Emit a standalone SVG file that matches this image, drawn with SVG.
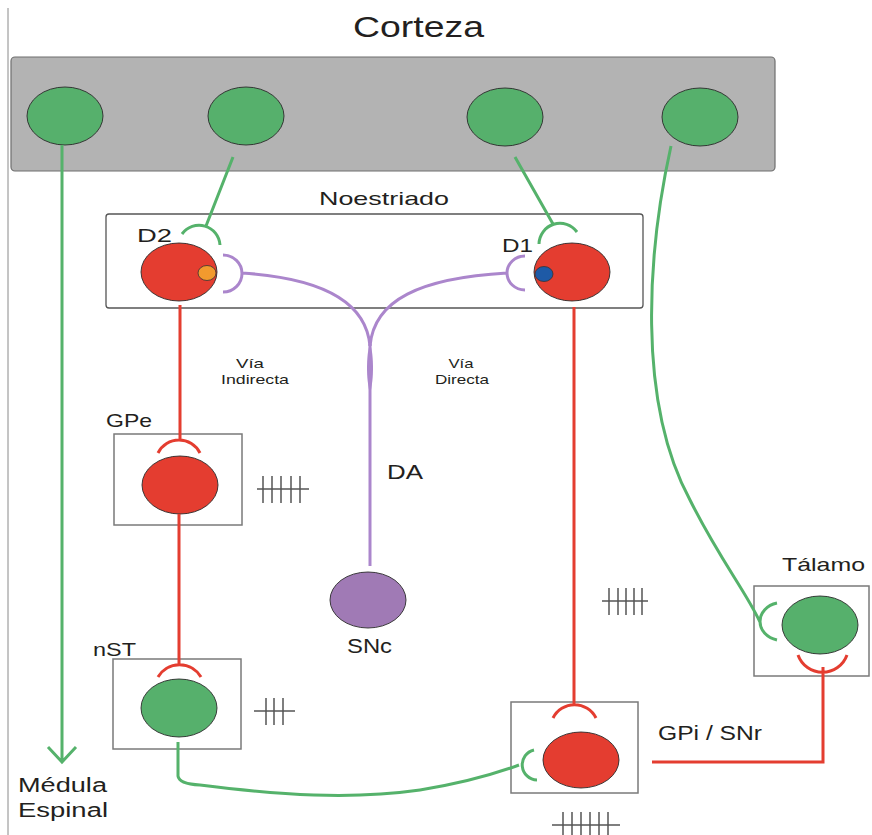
<svg xmlns="http://www.w3.org/2000/svg" width="872" height="835" viewBox="0 0 872 835">
<style>
.t{font-family:"Liberation Sans",Arial,sans-serif;fill:#231f20}
.box{fill:#fff;stroke:#7a7a7a;stroke-width:1.5}
.cell{stroke:#2a2a2a;stroke-width:0.9}
.g{fill:#56b06c}
.r{fill:#e43d30}
.gl{fill:none;stroke:#55b26b;stroke-width:3;stroke-linecap:butt}
.rl{fill:none;stroke:#e43d30;stroke-width:3}
.pl{fill:none;stroke:#ab86cc;stroke-width:3}
.hash{stroke:#555;stroke-width:1.5;fill:none}
</style>
<line x1="8" y1="8" x2="8" y2="835" stroke="#8a8a8a" stroke-width="1"/>
<g id="corteza">
<text class="t" x="353" y="37" font-size="30" textLength="131" lengthAdjust="spacingAndGlyphs">Corteza</text>
<rect x="11" y="57" width="764" height="114" rx="4" fill="#b3b3b3" stroke="#6e6e6e" stroke-width="1.2"/>
<ellipse class="cell g" cx="65" cy="116" rx="38" ry="29"/>
<ellipse class="cell g" cx="246" cy="116" rx="38" ry="29"/>
<ellipse class="cell g" cx="505" cy="117" rx="38" ry="29"/>
<ellipse class="cell g" cx="700" cy="117" rx="38" ry="29"/>
</g>
<g id="noestriado">
<text class="t" x="319" y="205" font-size="19" textLength="130" lengthAdjust="spacingAndGlyphs">Noestriado</text>
<rect x="106" y="214" width="537" height="94" rx="3" fill="#fff" stroke="#555" stroke-width="1.3"/>
<text class="t" x="137" y="242" font-size="19" textLength="35" lengthAdjust="spacingAndGlyphs">D2</text>
<text class="t" x="502" y="252" font-size="19" textLength="31" lengthAdjust="spacingAndGlyphs">D1</text>
<ellipse class="cell r" cx="179" cy="272" rx="38" ry="29"/>
<ellipse cx="207" cy="273" rx="9" ry="7.5" fill="#f29a2e" stroke="#333" stroke-width="0.8"/>
<ellipse class="cell r" cx="572" cy="272" rx="38" ry="29"/>
<ellipse cx="544" cy="274" rx="9" ry="7.5" fill="#1e5aa6" stroke="#333" stroke-width="0.8"/>
</g>
<g id="gpe">
<text class="t" x="106" y="427" font-size="19" textLength="46" lengthAdjust="spacingAndGlyphs">GPe</text>
<rect class="box" x="114" y="434" width="128" height="91"/>
<ellipse class="cell r" cx="180" cy="485" rx="38" ry="29"/>
<path class="hash" d="M257,489 H309 M263,476 V503 M272,476 V503 M281,476 V503 M291,476 V503 M300,476 V503"/>
</g>
<g id="snc">
<text class="t" x="387" y="479" font-size="20" textLength="36" lengthAdjust="spacingAndGlyphs">DA</text>
<ellipse cx="368" cy="600" rx="38" ry="28" fill="#a07ab5" stroke="#2a2a2a" stroke-width="0.9"/>
<text class="t" x="347" y="653" font-size="20" textLength="45" lengthAdjust="spacingAndGlyphs">SNc</text>
</g>
<g id="nst">
<text class="t" x="93" y="656" font-size="18" textLength="43" lengthAdjust="spacingAndGlyphs">nST</text>
<rect class="box" x="113" y="659" width="128" height="90"/>
<ellipse class="cell g" cx="179" cy="708" rx="38" ry="29"/>
<path class="hash" d="M254,711 H295 M266,698 V725 M274,698 V725 M283,698 V725"/>
</g>
<g id="gpi">
<rect class="box" x="511" y="702" width="127" height="91"/>
<ellipse class="cell r" cx="581" cy="760" rx="38" ry="28"/>
<text class="t" x="658" y="740" font-size="20" textLength="104" lengthAdjust="spacingAndGlyphs">GPi / SNr</text>
<path class="hash" d="M602,601 H648 M609,588 V615 M618,588 V615 M626,588 V615 M634,588 V615 M642,588 V615"/>
<path class="hash" d="M552,825 H620 M563,812 V835 M572,812 V835 M581,812 V835 M590,812 V835 M599,812 V835 M608,812 V835"/>
</g>
<g id="talamo">
<text class="t" x="782" y="571" font-size="19" textLength="83" lengthAdjust="spacingAndGlyphs">Tálamo</text>
<rect class="box" x="754" y="586" width="115" height="90"/>
<ellipse class="cell g" cx="820" cy="625" rx="38" ry="29"/>
</g>
<g id="medula">
<text class="t" x="18" y="792" font-size="20" textLength="89" lengthAdjust="spacingAndGlyphs">Médula</text>
<text class="t" x="18" y="817" font-size="20" textLength="90" lengthAdjust="spacingAndGlyphs">Espinal</text>
</g>
<g id="vias">
<text class="t" x="250" y="368" font-size="13" text-anchor="middle" textLength="28" lengthAdjust="spacingAndGlyphs">Vía</text>
<text class="t" x="221" y="384" font-size="13" textLength="68" lengthAdjust="spacingAndGlyphs">Indirecta</text>
<text class="t" x="461" y="368" font-size="13" text-anchor="middle" textLength="25" lengthAdjust="spacingAndGlyphs">Vía</text>
<text class="t" x="435" y="384" font-size="13" textLength="54" lengthAdjust="spacingAndGlyphs">Directa</text>
</g>
<g id="connectors">
<path class="gl" d="M62,145 V762 M48,747 L62,762 L76,747"/>
<path class="gl" d="M233,157 L206,226 M182,234 A21,21 0 0 1 220,245"/>
<path class="gl" d="M515,157 L553,224 M539,244 A21,21 0 0 1 577,232"/>
<path class="gl" d="M671,146 C648,250 636,400 690,500 C720,560 745,590 760,622 M777,603 A22,19 0 0 0 777,640"/>
<path class="gl" d="M178,742 V776 Q179,784 200,785 C280,795 350,800 420,790 C470,782 500,772 519,765 M534,750 A15.2,15.2 0 0 0 537,780"/>
<path class="pl" d="M223,255 A19,18.5 0 0 1 223,292 M242,273 C320,278 366,300 370,346"/>
<path class="pl" d="M525,256 A18,17 0 0 0 525,290 M507,273 C420,278 374,300 370,346"/>
<path d="M370,343 C374,355 374,380 370,394 C366,380 366,355 370,343 Z" fill="#ab86cc"/>
<path class="pl" d="M370,344 V566"/>
<path class="rl" d="M180,305 V440 M158,453 A23.5,23.5 0 0 1 200,453"/>
<path class="rl" d="M179,514 V665 M158,677 A25,25 0 0 1 201,677"/>
<path class="rl" d="M574,307 V705 M553,718 A24,24 0 0 1 596,718"/>
<path class="rl" d="M652,762 H823 V667 M798,655 A26,26 0 0 0 847,655"/>
</g>
</svg>
